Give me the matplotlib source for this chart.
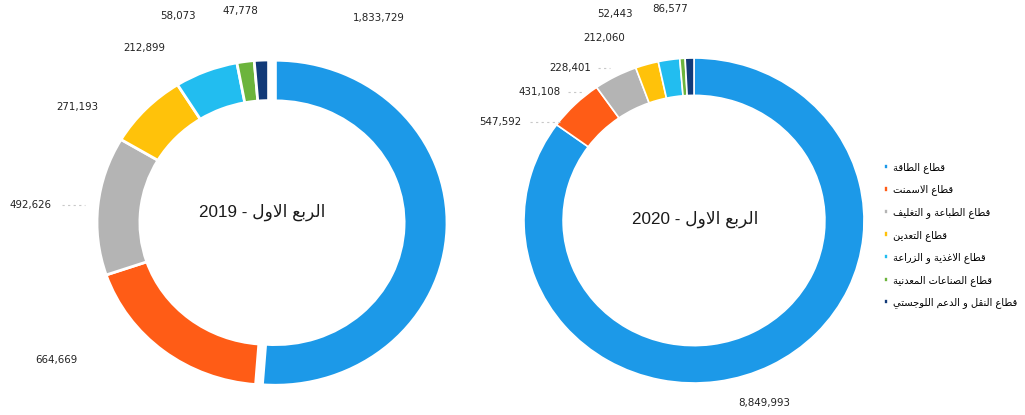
import numpy as np
import matplotlib
matplotlib.use('Agg')
import matplotlib.pyplot as plt

# sector names (legend order) and values per quarter
sectors = ['قطاع الطاقة', 'قطاع الاسمنت', 'قطاع الطباعة و التغليف', 'قطاع التعدين',
           'قطاع الاغذية و الزراعة', 'قطاع الصناعات المعدنية', 'قطاع النقل و الدعم اللوجستي']
q1_2019 = [1833729, 664669, 492626, 271193, 212899, 58073, 47778]
q1_2020 = [8849993, 547592, 431108, 228401, 212060, 52443, 86577]
titles = ['الربع الاول - 2019', 'الربع الاول - 2020']

colors = ['#1c99e8', '#ff5c16', '#b4b4b4', '#ffc20a', '#22bdf0', '#6cb43c', '#123a78']

W, H = 1025, 415

# label positions in pixels (hand placed in the original)
lab_pos_2019 = [(379, 18), (56, 360), (31, 205), (77, 107), (144, 48), (178, 16), (240, 11)]
lab_pos_2020 = [(764, 403), (500, 122), (540, 92), (570, 68), (604, 38), (615, 14), (670, 9)]
# faint leader bits next to some labels
leaders = [((62, 205), (85, 205)), ((530, 122), (560, 122)), ((568, 92), (582, 92)),
           ((598, 68), (610, 68))]

# ---- minimal arabic shaping (presentation forms + rtl reversal) ----
_dual = {'ب': 0xFE8F, 'ت': 0xFE95, 'ج': 0xFE9D, 'س': 0xFEB1, 'ص': 0xFEB9, 'ط': 0xFEC1,
         'ع': 0xFEC9, 'غ': 0xFECD, 'ف': 0xFED1, 'ق': 0xFED5, 'ل': 0xFEDD, 'م': 0xFEE1,
         'ن': 0xFEE5, 'ه': 0xFEE9, 'ي': 0xFEF1}
_right = {'ا': 0xFE8D, 'ة': 0xFE93, 'د': 0xFEA9, 'ذ': 0xFEAB, 'ر': 0xFEAD, 'ز': 0xFEAF,
          'و': 0xFEED}


def shape(text):
    toks = []
    i = 0
    while i < len(text):
        if text[i] == 'ل' and i + 1 < len(text) and text[i + 1] == 'ا':
            toks.append('LA')
            i += 2
        else:
            toks.append(text[i])
            i += 1
    joinable = lambda t: t == 'LA' or t in _dual or t in _right
    out = []
    for k, t in enumerate(toks):
        prev = toks[k - 1] if k > 0 else None
        nxt = toks[k + 1] if k + 1 < len(toks) else None
        pc = prev in _dual and joinable(t)
        nc = t in _dual and nxt is not None and joinable(nxt)
        if t == 'LA':
            out.append(chr(0xFEFC if pc else 0xFEFB))
        elif t in _dual:
            b = _dual[t]
            out.append(chr(b + (3 if pc and nc else 1 if pc else 2 if nc else 0)))
        elif t in _right:
            out.append(chr(_right[t] + (1 if pc else 0)))
        else:
            out.append(t)
    return ''.join(reversed(out))


def rtl_title(s):
    ar, num = s.split(' - ')
    return num + ' - ' + shape(ar)


def px(x, y):
    return x / W, 1 - y / H


fig = plt.figure(figsize=(W / 100, H / 100), dpi=100)
fig.patch.set_facecolor('white')

ax1 = fig.add_axes([97 / W, (H - 385) / H, 350 / W, 325 / H])
ax2 = fig.add_axes([524 / W, (H - 383) / H, 340 / W, 325 / H])

w1, _ = ax1.pie(q1_2019, colors=colors, startangle=90, counterclock=False,
                explode=[0.04, 0, 0, 0, 0, 0, 0],
                wedgeprops=dict(width=0.25, edgecolor='white', linewidth=2))
w2, _ = ax2.pie(q1_2020, colors=colors, startangle=90, counterclock=False,
                wedgeprops=dict(width=0.23, edgecolor='white', linewidth=1.2))
ax1.set_xlim(-1.0, 1.04)
ax2.set_xlim(-1.0, 1.0)
for ax in (ax1, ax2):
    ax.set_aspect('auto')
    ax.set_ylim(-1.0, 1.0)
    ax.axis('off')

fams = ['Liberation Sans', 'DejaVu Sans']
fig.text(*px(262, 212), rtl_title(titles[0]), ha='center', va='center', fontsize=12.3,
         family=fams, color='#1a1a1a')
fig.text(*px(695, 219), rtl_title(titles[1]), ha='center', va='center', fontsize=12.3,
         family=fams, color='#1a1a1a')

for vals, poss in ((q1_2019, lab_pos_2019), (q1_2020, lab_pos_2020)):
    for v, (x, y) in zip(vals, poss):
        fig.text(*px(x, y), '{:,}'.format(v), ha='center', va='center', fontsize=7.4,
                 color='#222222')

for (a, b) in leaders:
    xa, ya = px(*a)
    xb, yb = px(*b)
    fig.add_artist(plt.Line2D([xa, xb], [ya, yb], transform=fig.transFigure,
                              color='#c8c8c8', lw=0.8, ls=(0, (2, 3))))

fig.legend(w2, [shape(s) for s in sectors], loc='upper left',
           bbox_to_anchor=px(884, 162), frameon=False, fontsize=7.1,
           handlelength=0.45, handleheight=0.45, handletextpad=0.5,
           labelspacing=1.18, borderaxespad=0, borderpad=0)

fig.savefig('out.png', dpi=100, facecolor='white')
